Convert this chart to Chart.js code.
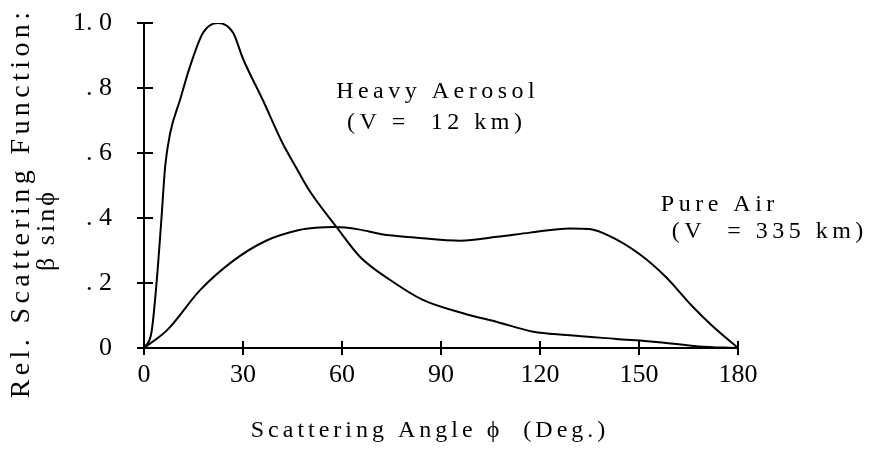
<!DOCTYPE html>
<html>
<head>
<meta charset="utf-8">
<script src="https://cdn.jsdelivr.net/npm/chart.js@4.4.1/dist/chart.umd.min.js"></script>
<style>
  html, body { margin: 0; padding: 0; background: #fff; }
  #wrap { width: 869px; height: 462px; position: relative; }
</style>
</head>
<body>
<div id="wrap"><canvas id="chart"></canvas></div>
<script>
// ---- data ----
const heavyAngles = [0, 2.3, 3.8, 5.3, 6.4, 7.9, 10.9, 13.9, 17.9, 22.4, 27, 30, 36, 42, 46, 50, 58.5, 65.5, 74.5, 84.5, 96.7, 107, 118, 128, 143, 156, 168, 180];
const heavyValues = [0, 0.05, 0.2, 0.4, 0.557, 0.66, 0.763, 0.865, 0.97, 1.0, 0.97, 0.89, 0.763, 0.63, 0.557, 0.486, 0.37, 0.28, 0.21, 0.148, 0.107, 0.08, 0.05, 0.04, 0.028, 0.018, 0.005, 0];

const airAngles = [0, 7, 17, 27, 37, 47, 52, 58, 65, 72, 82, 96, 107, 117, 129, 135, 141, 150, 158, 166, 172, 180];
const airValues = [0, 0.055, 0.178, 0.268, 0.33, 0.363, 0.37, 0.372, 0.365, 0.35, 0.34, 0.33, 0.342, 0.355, 0.368, 0.366, 0.345, 0.29, 0.22, 0.13, 0.07, 0];

const xTicks = [0, 30, 60, 90, 120, 150, 180];
const yTicks = [0, 0.2, 0.4, 0.6, 0.8, 1.0];
const yTickLabels = ['0', '. 2', '. 4', '. 6', '. 8', '1. 0'];

const xTitle = 'Scattering Angle \u03D5  (Deg.)';
const yTitle = ['Rel. Scattering Function:', '\u03B2 sin\u03D5'];

// curve labels: anchor in data units, second line offset in px
const labels = [
  { lines: ['Heavy Aerosol', '(V =  12 km)'], x: 89, y: 0.788, dx2: -1, dy2: 31 },
  { lines: ['Pure Air', '(V  = 335 km)'], x: 174.5, y: 0.44, dx2: 50, dy2: 27 }
];

const serif = '"Liberation Serif", "DejaVu Serif", serif';

const toPoints = (xs, ys) => xs.map((x, i) => ({ x: x, y: ys[i] }));

// crossing tick marks, axis titles and curve labels
const decorPlugin = {
  id: 'decor',
  afterDraw(chart) {
    const ctx = chart.ctx;
    const xs = chart.scales.x;
    const ys = chart.scales.y;
    const area = chart.chartArea;

    ctx.save();
    ctx.strokeStyle = '#000';
    ctx.lineWidth = 2;
    xTicks.forEach(v => {
      const px = xs.getPixelForValue(v);
      ctx.beginPath();
      ctx.moveTo(px, area.bottom - 7);
      ctx.lineTo(px, area.bottom + 7);
      ctx.stroke();
    });
    yTicks.forEach(v => {
      const py = ys.getPixelForValue(v);
      ctx.beginPath();
      ctx.moveTo(area.left - 7, py);
      ctx.lineTo(area.left + 9, py);
      ctx.stroke();
    });

    ctx.fillStyle = '#000';
    ctx.textAlign = 'center';
    ctx.textBaseline = 'middle';

    // x title
    ctx.font = '24px ' + serif;
    ctx.letterSpacing = '4px';
    ctx.fillText(xTitle, 430, 431);

    // y title (two lines, rotated)
    ctx.save();
    ctx.translate(22, 203);
    ctx.rotate(-Math.PI / 2);
    ctx.font = '28px ' + serif;
    ctx.letterSpacing = '4.4px';
    ctx.fillText(yTitle[0], 0, 0);
    ctx.font = '26px ' + serif;
    ctx.letterSpacing = '3px';
    ctx.fillText(yTitle[1], -27, 25);
    ctx.restore();

    // curve labels
    ctx.font = '24px ' + serif;
    ctx.letterSpacing = '4.5px';
    labels.forEach(l => {
      const px = xs.getPixelForValue(l.x);
      const py = ys.getPixelForValue(l.y);
      ctx.fillText(l.lines[0], px, py);
      ctx.fillText(l.lines[1], px + l.dx2, py + l.dy2);
    });
    ctx.restore();
  }
};

const noPad = s => {
  s.paddingTop = 0;
  s.paddingBottom = 0;
  s.paddingLeft = 0;
  s.paddingRight = 0;
};

new Chart(document.getElementById('chart'), {
  type: 'line',
  data: {
    datasets: [
      {
        label: 'Heavy Aerosol (V = 12 km)',
        data: toPoints(heavyAngles, heavyValues),
        borderColor: '#000',
        borderWidth: 2,
        pointRadius: 0,
        cubicInterpolationMode: 'monotone',
        fill: false
      },
      {
        label: 'Pure Air (V = 335 km)',
        data: toPoints(airAngles, airValues),
        borderColor: '#000',
        borderWidth: 2,
        pointRadius: 0,
        cubicInterpolationMode: 'monotone',
        fill: false
      }
    ]
  },
  options: {
    responsive: true,
    maintainAspectRatio: false,
    animation: false,
    layout: { padding: { top: 23, right: 131, bottom: 0, left: 0 } },
    plugins: {
      legend: { display: false },
      tooltip: { enabled: false }
    },
    scales: {
      x: {
        type: 'linear',
        min: 0,
        max: 180,
        afterFit: s => { s.height = 114; noPad(s); },
        afterBuildTicks: s => { s.ticks = xTicks.map(v => ({ value: v })); },
        grid: { display: false, drawTicks: false },
        border: { display: true, color: '#000', width: 2 },
        ticks: {
          color: '#000',
          padding: 12,
          font: { family: serif, size: 26 },
          callback: v => String(v)
        }
      },
      y: {
        type: 'linear',
        min: 0,
        max: 1.0,
        afterFit: s => { s.width = 144; noPad(s); },
        afterBuildTicks: s => { s.ticks = yTicks.map(v => ({ value: v })); },
        grid: { display: false, drawTicks: false },
        border: { display: true, color: '#000', width: 2 },
        ticks: {
          color: '#000',
          padding: 32,
          font: { family: serif, size: 26 },
          callback: v => yTickLabels[yTicks.findIndex(t => Math.abs(t - v) < 1e-6)]
        }
      }
    }
  },
  plugins: [decorPlugin]
});
</script>
</body>
</html>
